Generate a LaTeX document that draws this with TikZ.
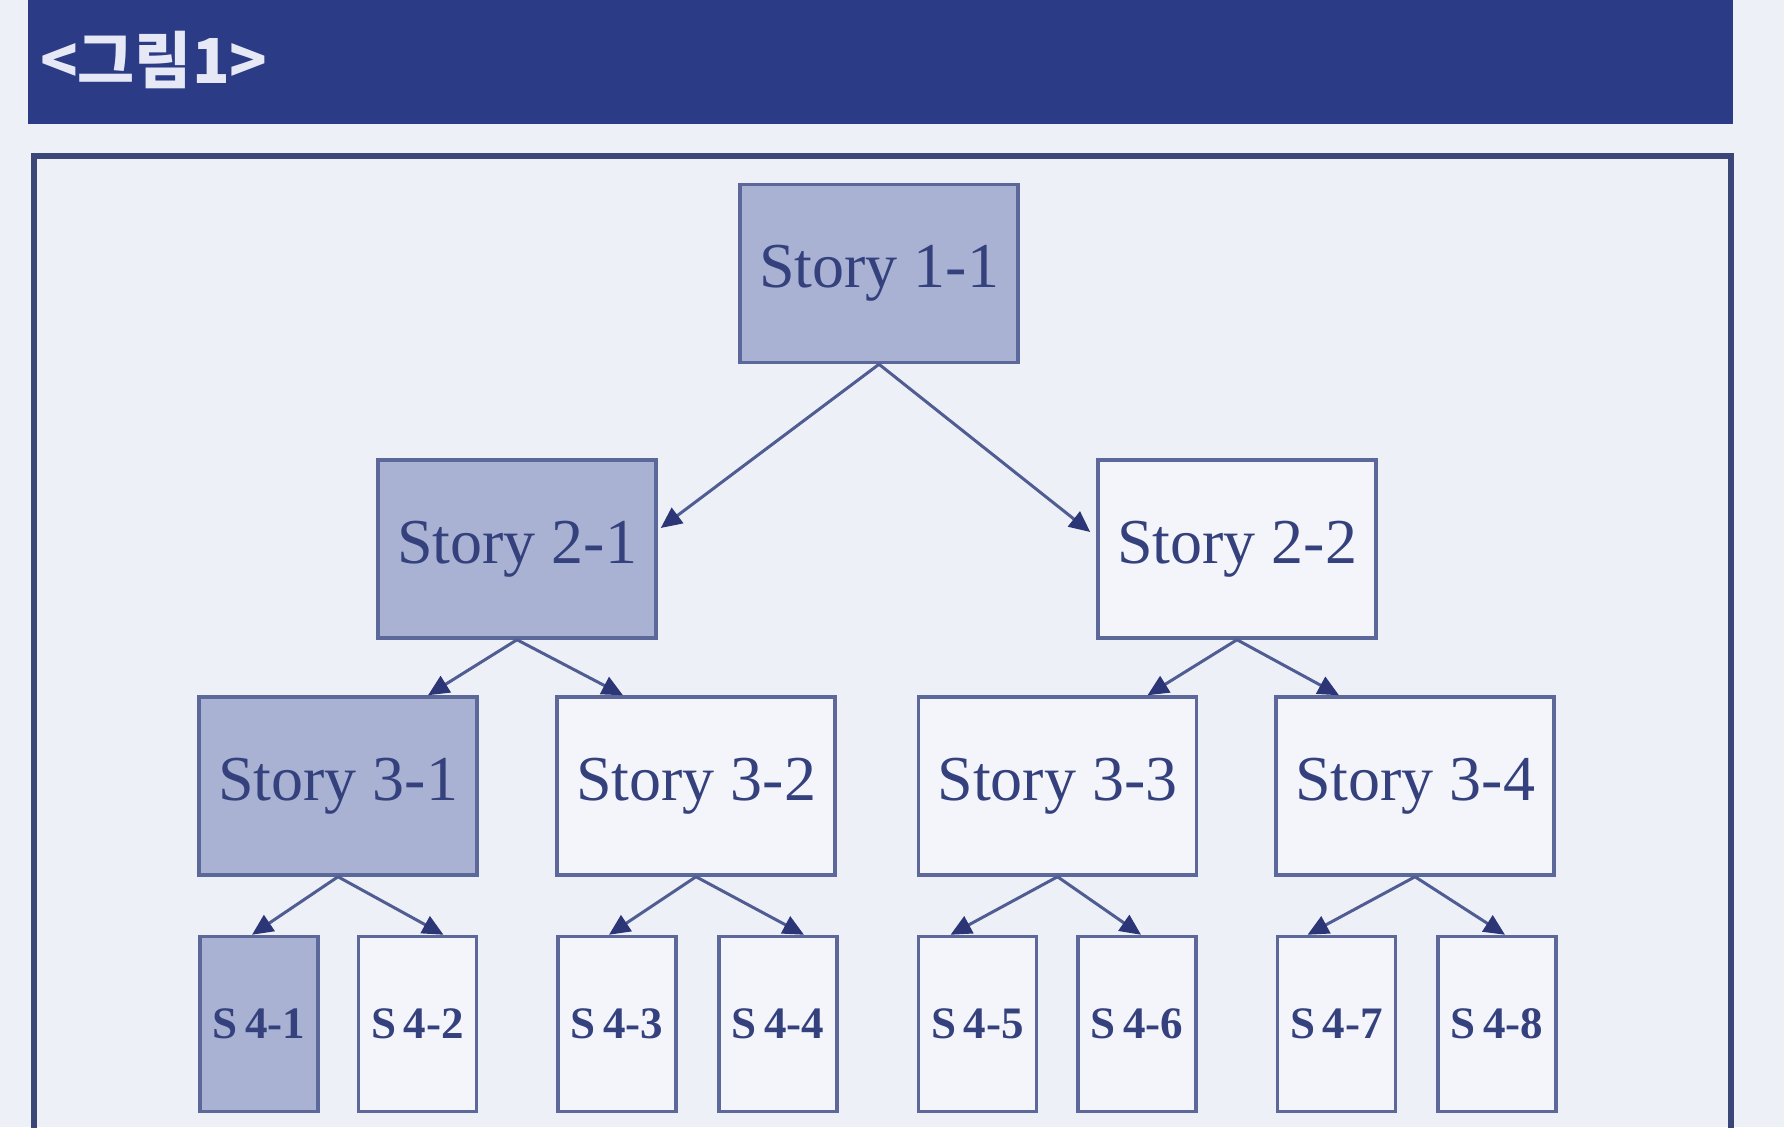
\documentclass[tikz,border=0pt]{standalone}
\usepackage{fontspec}
\setmainfont{Liberation Serif}
\newfontfamily\krfont{Noto Sans CJK KR}
\usetikzlibrary{arrows.meta}
\definecolor{pagebg}{HTML}{EEF0F7}
\definecolor{barblue}{HTML}{2B3B85}
\definecolor{framec}{HTML}{3A4677}
\definecolor{boxline}{HTML}{5B6899}
\definecolor{shade}{HTML}{A9B2D3}
\definecolor{lightbox}{HTML}{F4F5FB}
\definecolor{txt}{HTML}{34417D}
\definecolor{arrowc}{HTML}{4F5D92}
\definecolor{headc}{HTML}{2C3576}
\tikzset{
  box/.style={draw=boxline, line width=3.5pt, inner sep=0pt, text=txt, anchor=center},
  bigbox/.style={box, minimum width=278pt, minimum height=178pt, font=\fontsize{64}{72}\selectfont},
  smallbox/.style={box, minimum width=118pt, minimum height=175pt, font=\fontsize{45}{50}\selectfont\bfseries},
  shaded/.style={fill=shade},
  plain/.style={fill=lightbox},
  conn/.style={draw=arrowc, line width=3pt, -{Triangle[length=21pt,width=19pt,fill=headc,color=headc]}}
}
\begin{document}
\begin{tikzpicture}[x=1pt,y=-1pt]
\useasboundingbox (0,0) rectangle (1784,1127);
\fill[pagebg] (0,0) rectangle (1784,1127);
% header bar
\fill[barblue] (28,0) rectangle (1733,124);
\node[anchor=west, text={rgb,255:red,230;green,232;blue,246}, font=\krfont\bfseries\fontsize{62}{70}\selectfont, inner sep=0pt] (title) at (40,60) {<그림1>};
% frame
\draw[framec, line width=6pt] (34,1140) -- (34,156) -- (1731,156) -- (1731,1140);
% level 1
\node[bigbox, shaded] (s11) at (879,273.5) {Story 1-1};
% level 2
\node[bigbox, shaded] (s21) at (517,549) {Story 2-1};
\node[bigbox, plain] (s22) at (1237,549) {Story 2-2};
% level 3
\node[bigbox, shaded] (s31) at (338,786) {Story 3-1};
\node[bigbox, plain] (s32) at (696,786) {Story 3-2};
\node[bigbox, plain] (s33) at (1057.5,786) {Story 3-3};
\node[bigbox, plain] (s34) at (1415,786) {Story 3-4};
% level 4
\node[smallbox, shaded] (b1) at (259,1024) {S\,4-1};
\node[smallbox, plain] (b2) at (417.5,1024) {S\,4-2};
\node[smallbox, plain] (b3) at (617,1024) {S\,4-3};
\node[smallbox, plain] (b4) at (778,1024) {S\,4-4};
\node[smallbox, plain] (b5) at (977.5,1024) {S\,4-5};
\node[smallbox, plain] (b6) at (1137,1024) {S\,4-6};
\node[smallbox, plain] (b7) at (1336.5,1024) {S\,4-7};
\node[smallbox, plain] (b8) at (1497,1024) {S\,4-8};
% connectors
\draw[conn] (s11.south) -- ([xshift=3pt,yshift=21pt]s21.east);
\draw[conn] (s11.south) -- ([xshift=-6pt,yshift=17pt]s22.west);
\draw[conn] (s21.south) -- ([xshift=90pt]s31.north);
\draw[conn] (s21.south) -- ([xshift=-73pt]s32.north);
\draw[conn] (s22.south) -- ([xshift=90pt]s33.north);
\draw[conn] (s22.south) -- ([xshift=-76pt]s34.north);
\draw[conn] (s31.south) -- ([xshift=-7pt]b1.north);
\draw[conn] (s31.south) -- ([xshift=26pt]b2.north);
\draw[conn] (s32.south) -- ([xshift=-8pt]b3.north);
\draw[conn] (s32.south) -- ([xshift=26pt]b4.north);
\draw[conn] (s33.south) -- ([xshift=-27pt]b5.north);
\draw[conn] (s33.south) -- ([xshift=4pt]b6.north);
\draw[conn] (s34.south) -- ([xshift=-29pt]b7.north);
\draw[conn] (s34.south) -- ([xshift=8pt]b8.north);
\end{tikzpicture}
\end{document}
